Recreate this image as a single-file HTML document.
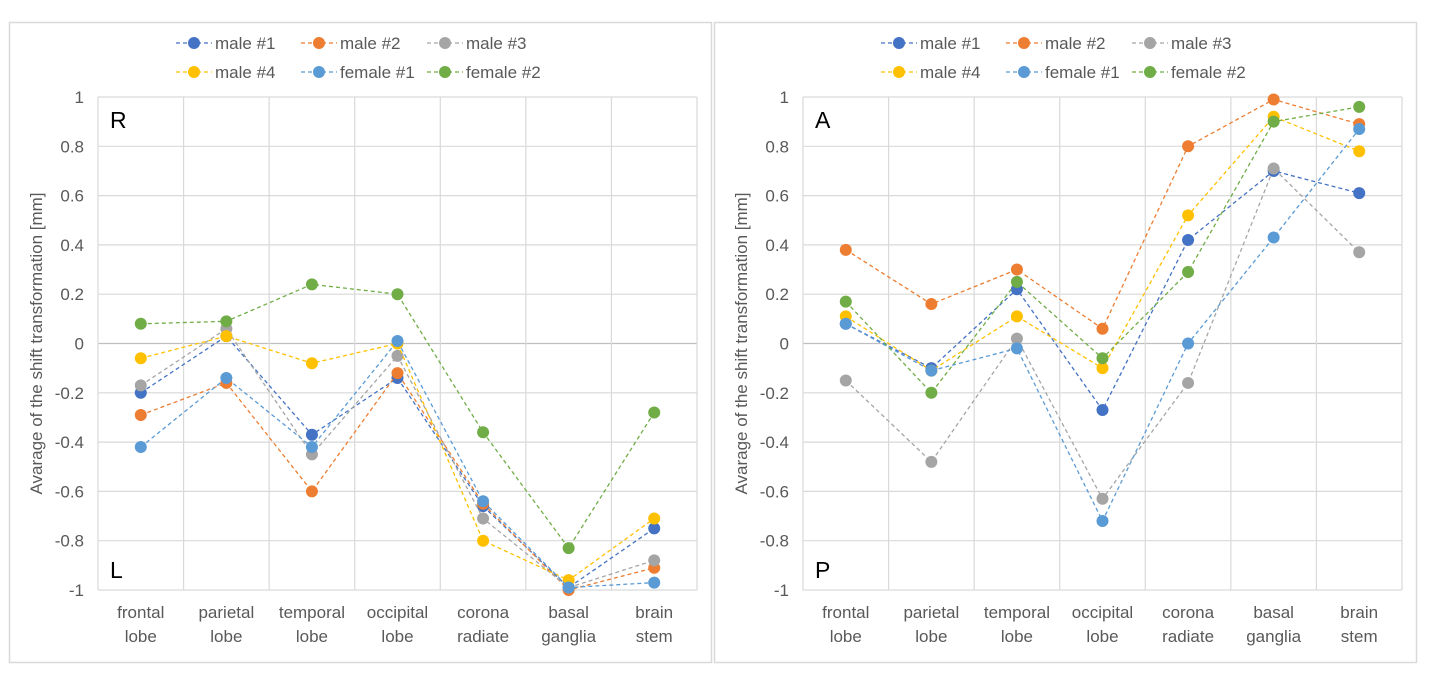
<!DOCTYPE html>
<html><head><meta charset="utf-8"><style>
body{margin:0;background:#fff;}
svg{display:block;font-family:"Liberation Sans",sans-serif;}
</style></head><body>
<svg id="s" width="1429" height="678"></svg>
<script>
const categories=[["frontal","lobe"],["parietal","lobe"],["temporal","lobe"],["occipital","lobe"],["corona","radiate"],["basal","ganglia"],["brain","stem"]];
const seriesNames=["male #1","male #2","male #3","male #4","female #1","female #2"];
const colors=["#4472C4","#ED7D31","#A5A5A5","#FFC000","#5B9BD5","#70AD47"];
const yTicks=[1,0.8,0.6,0.4,0.2,0,-0.2,-0.4,-0.6,-0.8,-1];
const rlMale1=[-0.20,0.03,-0.37,-0.14,-0.66,-0.99,-0.75];
const rlMale2=[-0.29,-0.16,-0.60,-0.12,-0.65,-1.0,-0.91];
const rlMale3=[-0.17,0.06,-0.45,-0.05,-0.71,-0.99,-0.88];
const rlMale4=[-0.06,0.03,-0.08,0.0,-0.80,-0.96,-0.71];
const rlFemale1=[-0.42,-0.14,-0.42,0.01,-0.64,-0.99,-0.97];
const rlFemale2=[0.08,0.09,0.24,0.20,-0.36,-0.83,-0.28];
const apMale1=[0.08,-0.10,0.22,-0.27,0.42,0.70,0.61];
const apMale2=[0.38,0.16,0.30,0.06,0.80,0.99,0.89];
const apMale3=[-0.15,-0.48,0.02,-0.63,-0.16,0.71,0.37];
const apMale4=[0.11,-0.11,0.11,-0.10,0.52,0.92,0.78];
const apFemale1=[0.08,-0.11,-0.02,-0.72,0.00,0.43,0.87];
const apFemale2=[0.17,-0.20,0.25,-0.06,0.29,0.90,0.96];

const NS="http://www.w3.org/2000/svg";
const svg=document.getElementById("s");
function mk(tag,attrs,parent,text){const e=document.createElementNS(NS,tag);for(const k in attrs)e.setAttribute(k,attrs[k]);if(text!==undefined)e.textContent=text;(parent||svg).appendChild(e);return e;}

function chart(ox,series,topLbl,botLbl,id){
  const g=mk("g",{});
  
  
  const frame=mk("rect",{x:ox+9.5,y:22.5,width:702,height:640,fill:"#fff",stroke:"#d9d9d9","stroke-width":1.5},g);
  
  
  const x0=ox+98,x1=ox+697,y0=97,y1=590;
  const cw=(x1-x0)/categories.length;
  const xs=i=>x0+cw*(i+0.5);
  const ys=v=>y0+(1-v)/2*(y1-y0);
  yTicks.forEach(t=>{
    const l=mk("line",{x1:x0,x2:x1,y1:ys(t),y2:ys(t),stroke:t===0?"#bfbfbf":"#d9d9d9","stroke-width":1.2},g);
    
    
    const tx=mk("text",{x:x0-14,y:ys(t)+6,"text-anchor":"end","font-size":17,fill:"#595959"},g,String(t));
    
    
  });
  for(let i=0;i<=categories.length;i++){
    const l=mk("line",{x1:x0+cw*i,x2:x0+cw*i,y1:y0,y2:y1,stroke:"#d9d9d9","stroke-width":1.2},g);
    
    
  }
  categories.forEach((c,i)=>{
    const t=mk("text",{x:xs(i),y:618,"text-anchor":"middle","font-size":17,fill:"#595959"},g);
    
    
    mk("tspan",{x:xs(i),dy:0},t,c[0]);
    mk("tspan",{x:xs(i),dy:24},t,c[1]);
  });
  const at=mk("text",{transform:`translate(${ox+42},${(y0+y1)/2}) rotate(-90)`,"text-anchor":"middle","font-size":17,fill:"#595959"},g,"Avarage of the shift transformation [mm]");
  
  
  const tl=mk("text",{x:x0+12,y:128,"font-size":23,fill:"#000"},g,topLbl);
  
  
  const bl=mk("text",{x:x0+12,y:578,"font-size":23,fill:"#000"},g,botLbl);
  
  
  series.forEach((vals,si)=>{
    const pts=vals.map((v,i)=>xs(i)+","+ys(v)).join(" ");
    const pl=mk("polyline",{points:pts,fill:"none",stroke:colors[si],"stroke-width":1.3,"stroke-dasharray":"4 3"},g);
    
    
    vals.forEach((v,i)=>{
      const c=mk("circle",{cx:xs(i),cy:ys(v),r:6,fill:colors[si]},g);
      
      
    });
  });
  const lx=[ox+176,ox+301,ox+427];
  seriesNames.forEach((n,i)=>{
    const x=lx[i%3],y=i<3?43:72;
    const lg=mk("g",{},g);
    
    
    mk("line",{x1:x,x2:x+36,y1:y,y2:y,stroke:colors[i],"stroke-width":1.3,"stroke-dasharray":"4 3"},lg);
    mk("circle",{cx:x+18,cy:y,r:6,fill:colors[i]},lg);
    mk("text",{x:x+39,y:y+6,"font-size":17,fill:"#595959"},lg,n);
  });
}
chart(0,[rlMale1,rlMale2,rlMale3,rlMale4,rlFemale1,rlFemale2],"R","L","rl");
chart(705,[apMale1,apMale2,apMale3,apMale4,apFemale1,apFemale2],"A","P","ap");
</script>
</body></html>
